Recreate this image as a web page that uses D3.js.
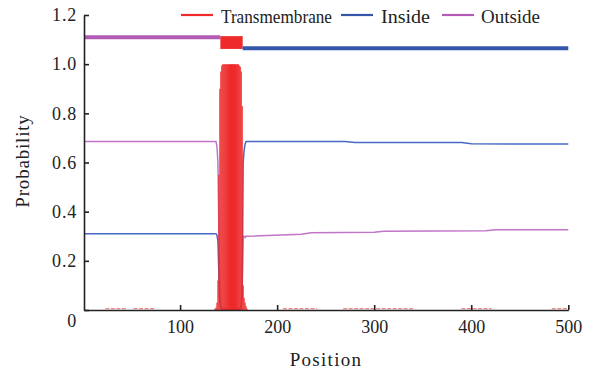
<!DOCTYPE html>
<html>
<head>
<meta charset="utf-8">
<script src="https://cdn.jsdelivr.net/npm/d3@7"></script>
<style>
  html, body { margin: 0; padding: 0; background: #fff; }
  svg { display: block; }
  text { font-family: "Liberation Serif", "DejaVu Serif", serif; fill: #222; }
</style>
</head>
<body>
<svg id="chart" width="590" height="372"></svg>
<script>
// ---- data ----
const seriesNames = ["Transmembrane", "Inside", "Outside"];
const seriesColors = ["#ee2a2a", "#3356ab", "#b25cb6"];
const lineColors = ["#ee2a2a", "#4868c2", "#c274c8"];

const xTicks = [100, 200, 300, 400, 500];
const yTicks = [0, 0.2, 0.4, 0.6, 0.8, 1.0, 1.2];
const yTickLabels = ["0", "0.2", "0.4", "0.6", "0.8", "1.0", "1.2"];

// transmembrane probability (impulses) in the helix region
const tmPos = [136,137,138,139,140,141,142,143,144,145,146,147,148,149,150,151,152,153,154,155,156,157,158,159,160,161,162,163,164,165,166,167,168,169];
const tmVal = [0.005,0.01,0.03,0.12,0.55,0.9,0.97,0.995,1,1,1,1,1,1,1,1,1,1,1,1,1,1,1,1,1,0.995,0.99,0.97,0.83,0.1,0.05,0.03,0.015,0.005];
// very low TM probability stretches near zero
const tmLowStart = [23, 52, 206, 268, 390, 483];
const tmLowEnd   = [45, 74, 241, 340, 421, 500];
const tmLowVal = 0.006;

// inside probability
const insidePos = [1,137,138,139,140,141,142,143,161,162,163,164,165,166,167,168,270,280,390,400,500];
const insideVal = [0.31,0.31,0.305,0.28,0.14,0.03,0.01,0,0,0.005,0.01,0.06,0.6,0.65,0.675,0.685,0.685,0.681,0.681,0.676,0.675];
// outside probability
const outsidePos = [1,137,138,139,140,141,142,143,161,162,163,164,165,166,167,168,225,235,300,310,415,425,500];
const outsideVal = [0.685,0.685,0.665,0.6,0.31,0.07,0.02,0.005,0.005,0.005,0.02,0.11,0.3,0.3,0.295,0.3,0.308,0.314,0.316,0.32,0.322,0.326,0.326];

// predicted topology (top bar)
const topoType  = ["Outside", "Transmembrane", "Inside"];
const topoStart = [1, 142, 165];
const topoEnd   = [141, 164, 500];
const topoLevel = { Outside: 1.11, Inside: 1.065 };
const tmBoxLow = 1.062, tmBoxHigh = 1.114;

// ---- drawing ----
const svg = d3.select("#chart");
const x = d3.scaleLinear().domain([1, 500]).range([84, 568.3]);
const y = d3.scaleLinear().domain([0, 1.2]).range([310, 15]);
const color = d3.scaleOrdinal().domain(seriesNames).range(seriesColors);
const lcolor = d3.scaleOrdinal().domain(seriesNames).range(lineColors);

// inside / outside lines
const line = d3.line().x(d => x(d[0])).y(d => y(d[1]));
const insideData = insidePos.map((p, i) => [p, insideVal[i]]);
const outsideData = outsidePos.map((p, i) => [p, outsideVal[i]]);
svg.append("path").datum(outsideData).attr("d", line)
  .attr("fill", "none").attr("stroke", lcolor("Outside")).attr("stroke-width", 1.5);
svg.append("path").datum(insideData).attr("d", line)
  .attr("fill", "none").attr("stroke", lcolor("Inside")).attr("stroke-width", 1.5);

// low TM stretches
svg.append("g").selectAll("line").data(tmLowStart).join("line")
  .attr("x1", (d) => x(d)).attr("x2", (d, i) => x(tmLowEnd[i]))
  .attr("y1", y(tmLowVal)).attr("y2", y(tmLowVal))
  .attr("stroke", "#f08a8a").attr("stroke-width", 1.2).attr("stroke-dasharray", "4,1.5");

// TM impulses
svg.append("g").selectAll("line").data(tmPos).join("line")
  .attr("x1", d => x(d)).attr("x2", d => x(d))
  .attr("y1", y(0)).attr("y2", (d, i) => y(tmVal[i]))
  .attr("stroke", color("Transmembrane")).attr("stroke-width", 1.15);

// topology bar
topoType.forEach((t, i) => {
  const x0 = x(Math.max(1, topoStart[i] - 0.5)), x1 = x(Math.min(500, topoEnd[i] + 0.5));
  if (t === "Transmembrane") {
    svg.append("rect").attr("x", x0).attr("width", x1 - x0)
      .attr("y", y(tmBoxHigh)).attr("height", y(tmBoxLow) - y(tmBoxHigh))
      .attr("fill", color(t));
  } else {
    svg.append("line").attr("x1", x0).attr("x2", x1)
      .attr("y1", y(topoLevel[t])).attr("y2", y(topoLevel[t]))
      .attr("stroke", color(t)).attr("stroke-width", 4);
  }
});

// axes
const yAxis = d3.axisLeft(y).tickValues(yTicks)
  .tickFormat((d, i) => yTickLabels[i]).tickSize(-5).tickSizeOuter(0).tickPadding(7);
const gy = svg.append("g").attr("transform", "translate(84,0)").call(yAxis);
const xAxis = d3.axisBottom(x).tickValues(xTicks).tickSize(-5).tickSizeOuter(0).tickPadding(10);
const gx = svg.append("g").attr("transform", "translate(0,310)").call(xAxis);
[gx, gy].forEach(g => {
  g.select(".domain").attr("stroke", "#222").attr("stroke-width", 1.6);
  g.selectAll(".tick line").attr("stroke", "#222").attr("stroke-width", 1.6);
  g.selectAll(".tick text").attr("font-size", 18).attr("fill", "#222")
    .style("font-family", "'Liberation Serif', serif");
});
gy.selectAll(".tick text").attr("letter-spacing", 0.8);
gy.selectAll(".tick").filter(d => d === 0).select("text").attr("dy", "0.9em");

// axis titles
svg.append("text").attr("x", 326).attr("y", 366).attr("text-anchor", "middle")
  .attr("font-size", 19).attr("letter-spacing", 1.3).text("Position");
svg.append("text").attr("transform", "translate(29,161) rotate(-90)")
  .attr("text-anchor", "middle").attr("font-size", 19).attr("letter-spacing", 0.8).text("Probability");

// legend
const legendLineX = [181, 341, 442];
const legendTextX = [221, 381, 481];
const legendTextW = [111, 49, 59];
const lg = svg.append("g");
seriesNames.forEach((n, i) => {
  lg.append("line").attr("x1", legendLineX[i]).attr("x2", legendLineX[i] + 32)
    .attr("y1", 15).attr("y2", 15).attr("stroke", color(n)).attr("stroke-width", 2.2);
  lg.append("text").attr("x", legendTextX[i]).attr("y", 23)
    .attr("font-size", 19).attr("textLength", legendTextW[i])
    .attr("lengthAdjust", "spacingAndGlyphs").text(n);
});
</script>
</body>
</html>
